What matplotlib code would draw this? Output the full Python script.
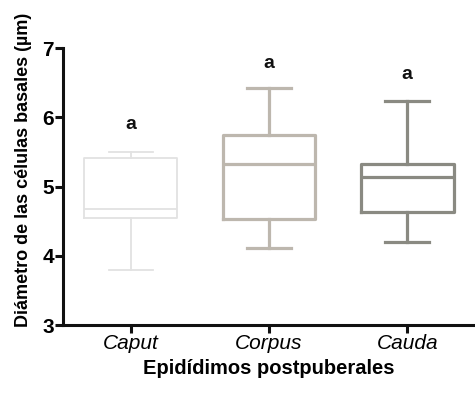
import matplotlib
matplotlib.use("Agg")
import matplotlib.pyplot as plt

# Box-plot summary of basal cell diameter per epididymal region
regions = ["Caput", "Corpus", "Cauda"]
whisker_low = [3.79, 4.11, 4.20]
q1 = [4.54, 4.53, 4.63]
median = [4.68, 5.33, 5.14]
q3 = [5.42, 5.74, 5.33]
whisker_high = [5.50, 6.42, 6.24]
letters = ["a", "a", "a"]
letter_y = [5.90, 6.78, 6.62]
box_colors = ["#e2e2e2", "#bdb7ae", "#8a8a82"]
box_widths = [1.3, 2.3, 2.3]

plt.rcParams["font.family"] = ["Liberation Sans", "DejaVu Sans"]

fig = plt.figure(figsize=(4.75, 3.95), dpi=100)
ax = fig.add_axes([0.1326, 0.177, 0.8674, 0.701])

stats = []
for i, name in enumerate(regions):
    stats.append(dict(label=name, whislo=whisker_low[i], q1=q1[i], med=median[i],
                      q3=q3[i], whishi=whisker_high[i], fliers=[]))

positions = list(range(len(regions)))
for i, s in enumerate(stats):
    c = box_colors[i]
    lw = box_widths[i]
    ax.bxp([s], positions=[positions[i]], widths=0.67, showfliers=False,
           boxprops=dict(color=c, linewidth=lw),
           medianprops=dict(color=c, linewidth=lw),
           whiskerprops=dict(color=c, linewidth=lw),
           capprops=dict(color=c, linewidth=lw),
           capwidths=0.32)

for i, t in enumerate(letters):
    ax.text(positions[i], letter_y[i], t, ha="center", va="center",
            fontsize=14, fontweight="bold", color="#111111")

ax.set_xlim(-0.49, 2.49)
ax.set_ylim(3, 7)
ax.set_yticks([3, 4, 5, 6, 7])
ax.set_xticks(positions)
ax.set_xticklabels(regions, fontstyle="italic", fontsize=15)
for lab in ax.get_yticklabels():
    lab.set_fontweight("bold")
    lab.set_fontsize(15)

for side in ["top", "right"]:
    ax.spines[side].set_visible(False)
for side in ["left", "bottom"]:
    ax.spines[side].set_linewidth(2.2)
    ax.spines[side].set_color("#111111")
ax.tick_params(axis="both", direction="out", length=5.5, width=2.2, color="#111111")
ax.tick_params(axis="y", pad=1)
ax.tick_params(axis="x", pad=1)

ax.set_xlabel("Epidídimos postpuberales", fontsize=14.5, fontweight="bold", labelpad=4)
ax.set_ylabel("Diámetro de las células basales (µm)", fontsize=13, fontweight="bold")
ax.yaxis.set_label_coords(-0.075, 0.56)

fig.savefig("out.png", dpi=100)
